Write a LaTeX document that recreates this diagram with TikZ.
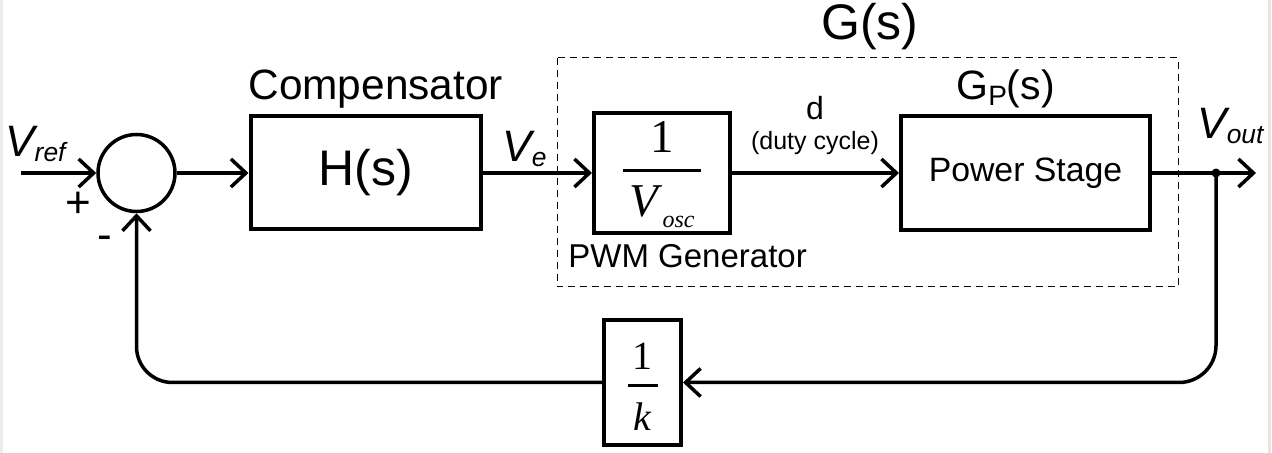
\documentclass[tikz,border=0pt]{standalone}
\usepackage{fontspec}
\setmainfont{Liberation Sans}
\newfontfamily\serifmath{Liberation Serif}
\usetikzlibrary{arrows.meta}
\setlength{\arrayrulewidth}{1.5pt}
\newcommand{\sig}[1]{{\fontsize{22}{26}\selectfont\itshape V\raisebox{-2.5pt}{\fontsize{13.2}{16}\selectfont #1}}}
\newcommand{\blockfrac}[5]{\begin{tabular}{@{\hspace{#3}}c@{\hspace{#3}}}\rule{0pt}{#5}#1\\\hline\rule{0pt}{#4}#2\end{tabular}}
\tikzstyle{block} = [rectangle, draw, line width=2pt, inner sep=0pt]
\tikzstyle{adder} = [circle, draw, line width=1.75pt, minimum size=38.5pt, inner sep=0pt]
\tikzstyle{wire} = [draw, line width=1.75pt, ->]
\tikzstyle{txt} = [inner sep=0pt]
\tikzstyle{gbox} = [draw, line width=0.5pt, dash pattern=on 3.5pt off 2.5pt]

\begin{document}
\begin{tikzpicture}[x=0.5pt,y=-0.5pt,>={Straight Barb[length=7.5pt,width=14pt]}]
  \useasboundingbox (0,0) rectangle (1272,453);
  \fill[gray!15] (0,0) rectangle (3,453);
  \fill[gray!20] (1268,0) rectangle (1271,453);

  \node[adder] (sum) at (136.5,173) {};
  \node[block, minimum width=115pt, minimum height=56.5pt] (H) at (365.5,173) {\fontsize{25}{30}\selectfont H(s)};
  \node[block, minimum width=68pt, minimum height=58pt] (pwm) at (662,173) {\serifmath\fontsize{23.5}{28}\selectfont\blockfrac{1}{\textit{V}\raisebox{-5.5pt}{\fontsize{12}{14}\selectfont\itshape osc}}{3pt}{22pt}{19.6pt}};
  \node[block, minimum width=124.5pt, minimum height=57pt] (plant) at (1025.5,173) {\fontsize{16.9}{20}\selectfont Power Stage};
  \node[block, minimum width=38.5pt, minimum height=57.5pt] (k) at (642.5,382.5) {\serifmath\fontsize{20}{24}\selectfont\blockfrac{1}{\textit{k}}{2.5pt}{21.5pt}{24.8pt}};
  \draw[gbox] (557,58) rectangle (1178,287);

  \coordinate (vin) at (21,173);
  \coordinate (tap) at (1216,173);
  \coordinate (vout) at (1256,173);

  \path (vin) edge[wire] (sum)
        (sum) edge[wire] (H)
        (H) edge[wire] (pwm)
        (pwm) edge[wire] (plant)
        (plant) edge[wire] (vout);
  \fill (tap) circle (2.25pt);
  \draw[wire, rounded corners=18.5pt] (tap) |- (k.east);
  \draw[wire, rounded corners=18pt] (k.west) -| (sum.south);

  \node[txt, anchor=base west] (comp) at (248,100) {\fontsize{21.2}{25}\selectfont Compensator};
  \node[txt, anchor=base] (gs) at (870,40) {\fontsize{25}{30}\selectfont G(s)};
  \node[txt, anchor=base west] (gp) at (956,100) {\fontsize{20.5}{24}\selectfont G\raisebox{-3pt}{\fontsize{14}{14}\selectfont P}(s)};
  \node[txt, anchor=base west] (pwmname) at (568,268) {\fontsize{16.5}{20}\selectfont PWM Generator};
  \node[txt, anchor=base] (d) at (815,120) {\fontsize{16}{19}\selectfont d};
  \node[txt, anchor=base] (duty) at (815,150) {\fontsize{12.5}{15}\selectfont (duty cycle)};
  \node[txt, anchor=base west] (vref) at (5,157) {\sig{ref}};
  \node[txt, anchor=base west] (ve) at (502,162) {\sig{e}};
  \node[txt, anchor=base west] (vo) at (1197,139) {\sig{out}};
  \node[txt] (plus) at (78,205) {\fontsize{22}{26}\selectfont +};
  \node[txt] (minus) at (105,243) {\fontsize{22}{26}\selectfont -};
\end{tikzpicture}
\end{document}
